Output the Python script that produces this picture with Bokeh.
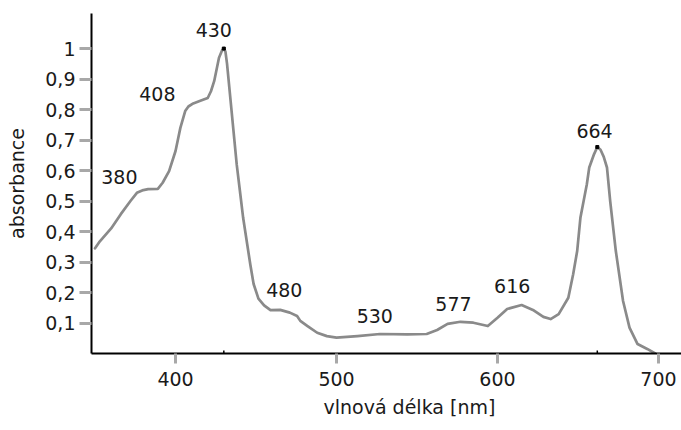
import numpy as np
from bokeh.plotting import figure
from bokeh.models import (Range1d, FixedTicker, CustomJSTickFormatter, Title,
                          ColumnDataSource)
from bokeh.core.properties import value
from bokeh.embed import file_html
from bokeh.resources import INLINE

# ---- data ----
wavelength = [350, 353, 360, 366, 372, 376, 380, 383, 389, 392, 396, 400, 403,
              406, 408, 411, 415, 420, 422, 424, 427, 429, 430, 431, 432, 434,
              436, 438, 440, 442, 444.5, 446.5, 448.5, 451.5, 455, 459, 465, 471,
              475.5, 477.5, 482, 488, 494, 500, 513, 527, 544, 556, 562.5, 569,
              577, 585, 594, 600, 606, 615, 622, 628.5, 633, 638, 644, 647, 649.5,
              651.5, 653.5, 655.5, 657, 660, 662, 664, 666, 668, 670, 673.5, 678,
              682, 687, 693, 698]
absorbance = [0.345, 0.368, 0.41, 0.457, 0.50, 0.527, 0.536, 0.539, 0.54, 0.56,
              0.598, 0.664, 0.74, 0.795, 0.81, 0.82, 0.828, 0.838, 0.86, 0.893,
              0.97, 0.995, 1.0, 0.99, 0.95, 0.84, 0.73, 0.62, 0.533, 0.445, 0.359,
              0.29, 0.228, 0.18, 0.158, 0.142, 0.143, 0.134, 0.123, 0.107, 0.09,
              0.068, 0.057, 0.052, 0.057, 0.064, 0.063, 0.064, 0.077, 0.097,
              0.104, 0.101, 0.09, 0.117, 0.146, 0.159, 0.143, 0.12, 0.113, 0.129,
              0.183, 0.26, 0.336, 0.445, 0.5, 0.555, 0.61, 0.654, 0.677, 0.668,
              0.645, 0.61, 0.5, 0.336, 0.172, 0.085, 0.031, 0.015, 0.0]

peak_labels = [380, 408, 430, 480, 530, 577, 616, 664]
marked_peaks = [430, 662]

x_ticks = [400, 500, 600, 700]
y_ticks = [0.1, 0.2, 0.3, 0.4, 0.5, 0.6, 0.7, 0.8, 0.9, 1.0]

# label pixel offsets (style/position, not data)
label_dx = [-24, -31, -10, -20, -10, -7, -11, -6]
label_dy = [-13, -13, -19, -34, -18, -18, -20, -19]

FONT = "DejaVu Sans"
TXT = "#1a1a1a"
FS = "19px"

p = figure(width=681, height=430, output_backend="svg", toolbar_location=None,
           x_range=Range1d(347.8, 714.3), y_range=Range1d(0, 1.115),
           min_border_left=91, min_border_right=0, min_border_top=13,
           min_border_bottom=77)
p.outline_line_color = None
p.grid.visible = False
p.background_fill_color = "white"
p.border_fill_color = "white"

p.line(wavelength, absorbance, line_color="#8a8a8a", line_width=2.7,
       line_join="round", line_cap="round")

peak_y = np.interp(marked_peaks, wavelength, absorbance)
p.scatter(marked_peaks, peak_y, size=3, color="black", marker="square")
p.segment(x0=marked_peaks, y0=[0] * len(marked_peaks), x1=marked_peaks,
          y1=[0.01] * len(marked_peaks), line_color="black", line_width=1.5)

src = ColumnDataSource(dict(
    x=peak_labels,
    y=np.interp(peak_labels, wavelength, absorbance),
    t=[str(v) for v in peak_labels],
    dx=label_dx, dy=label_dy))
p.text(x="x", y="y", text="t", x_offset="dx", y_offset="dy", source=src,
       text_align="center", text_baseline="middle",
       text_font=value(FONT), text_font_size=FS, text_color=TXT)

for ax in (p.xaxis[0], p.yaxis[0]):
    ax.axis_line_color = "black"
    ax.axis_line_width = 2
    ax.major_tick_line_color = "#a8a8a8"
    ax.major_tick_line_width = 3
    ax.major_tick_in = 0
    ax.minor_tick_line_color = None
    ax.major_label_text_font = FONT
    ax.major_label_text_font_size = FS
    ax.major_label_text_color = TXT

p.xaxis.ticker = FixedTicker(ticks=x_ticks)
p.xaxis.major_tick_out = 10
p.xaxis.major_label_standoff = 8

p.yaxis.ticker = FixedTicker(ticks=y_ticks)
p.yaxis.major_tick_out = 12
p.yaxis.major_label_standoff = 4
p.yaxis.formatter = CustomJSTickFormatter(
    code="return (Math.round(tick*10)/10).toString().replace('.', ',');")
p.yaxis.axis_label = "absorbance"
p.yaxis.axis_label_text_font = FONT
p.yaxis.axis_label_text_font_size = FS
p.yaxis.axis_label_text_font_style = "normal"
p.yaxis.axis_label_text_color = TXT
p.yaxis.axis_label_standoff = 14

xlab = Title(text="vlnová délka [nm]", align="left", offset=232,
             text_font=FONT, text_font_size=FS, text_font_style="normal",
             text_color=TXT, standoff=10)
p.add_layout(xlab, "below")

open("out.html", "w").write(file_html(p, INLINE))
